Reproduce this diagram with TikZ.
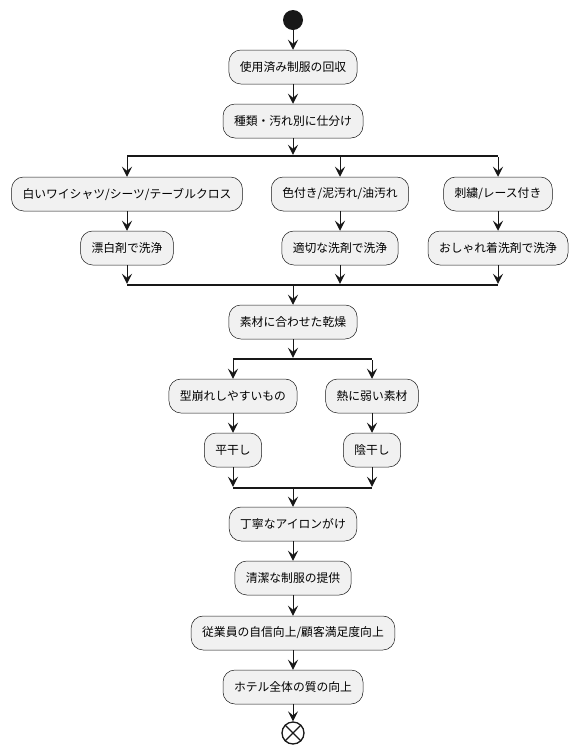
\documentclass[tikz,border=0pt]{standalone}
\usepackage{fontspec}
\setmainfont{Noto Sans CJK JP}
\usetikzlibrary{arrows.meta}
\definecolor{boxfill}{HTML}{F1F1F1}
\definecolor{ln}{HTML}{181818}
\begin{document}
\begin{tikzpicture}[x=1pt,y=-1pt,
  act/.style={draw=ln, fill=boxfill, rounded corners=12pt, minimum height=34pt, inner xsep=11pt, inner ysep=0pt, font=\fontsize{11.8pt}{14pt}\selectfont, line width=0.5pt},
  arr/.style={-{Stealth[length=10pt,width=10pt,inset=4pt]}, draw=ln, line width=1pt},
  bar/.style={fill=ln, draw=none, inner sep=0pt, minimum height=2pt},
  startdot/.style={circle, fill=ln, draw=none, minimum size=20pt, inner sep=0pt},
  enddot/.style={circle, fill=white, draw=ln, line width=1.3pt, minimum size=22pt, inner sep=0pt}]
\useasboundingbox (0,0) rectangle (577,753);
\fill[white] (0,0) rectangle (577,753);

\node[startdot] (s) at (293,20) {};
\node[act] (n1) at (293,67) {使用済み制服の回収};
\node[act] (n2) at (293,121) {種類・汚れ別に仕分け};
\node[bar, minimum width=371pt] (f1) at (312.5,156) {};
\node[act] (a1) at (127,194) {白いワイシャツ/シーツ/テーブルクロス};
\node[act] (a2) at (127,248) {漂白剤で洗浄};
\node[act] (b1) at (340,194) {色付き/泥汚れ/油汚れ};
\node[act] (b2) at (340,248) {適切な洗剤で洗浄};
\node[act] (c1) at (498,194) {刺繍/レース付き};
\node[act] (c2) at (498,248) {おしゃれ着洗剤で洗浄};
\node[bar, minimum width=371pt] (j1) at (312.5,285) {};
\node[act] (n3) at (293,322) {素材に合わせた乾燥};
\node[bar, minimum width=139pt] (f2) at (302.5,359) {};
\node[act] (d1) at (233,396) {型崩れしやすいもの};
\node[act] (d2) at (233,450) {平干し};
\node[act] (e1) at (372,396) {熱に弱い素材};
\node[act] (e2) at (372,450) {陰干し};
\node[bar, minimum width=139pt] (j2) at (302.5,488) {};
\node[act] (n4) at (293,524) {丁寧なアイロンがけ};
\node[act] (n5) at (293,578) {清潔な制服の提供};
\node[act] (n6) at (293,633) {従業員の自信向上/顧客満足度向上};
\node[act] (n7) at (293,687) {ホテル全体の質の向上};
\node[enddot] (e) at (293,733) {};
\draw[ln, line width=1.3pt] (e.45) -- (e.225) (e.135) -- (e.315);

\draw[arr] (s) -- (n1);
\draw[arr] (n1) -- (n2);
\draw[arr] (n2) -- (n2.south |- f1.north);
\draw[arr] (a1.north |- f1.south) -- (a1);
\draw[arr] (b1.north |- f1.south) -- (b1);
\draw[arr] (c1.north |- f1.south) -- (c1);
\draw[arr] (a1) -- (a2);
\draw[arr] (b1) -- (b2);
\draw[arr] (c1) -- (c2);
\draw[arr] (a2) -- (a2.south |- j1.north);
\draw[arr] (b2) -- (b2.south |- j1.north);
\draw[arr] (c2) -- (c2.south |- j1.north);
\draw[arr] (n3.north |- j1.south) -- (n3);
\draw[arr] (n3) -- (n3.south |- f2.north);
\draw[arr] (d1.north |- f2.south) -- (d1);
\draw[arr] (e1.north |- f2.south) -- (e1);
\draw[arr] (d1) -- (d2);
\draw[arr] (e1) -- (e2);
\draw[arr] (d2) -- (d2.south |- j2.north);
\draw[arr] (e2) -- (e2.south |- j2.north);
\draw[arr] (n4.north |- j2.south) -- (n4);
\draw[arr] (n4) -- (n5);
\draw[arr] (n5) -- (n6);
\draw[arr] (n6) -- (n7);
\draw[arr] (n7) -- (e);
\end{tikzpicture}
\end{document}
